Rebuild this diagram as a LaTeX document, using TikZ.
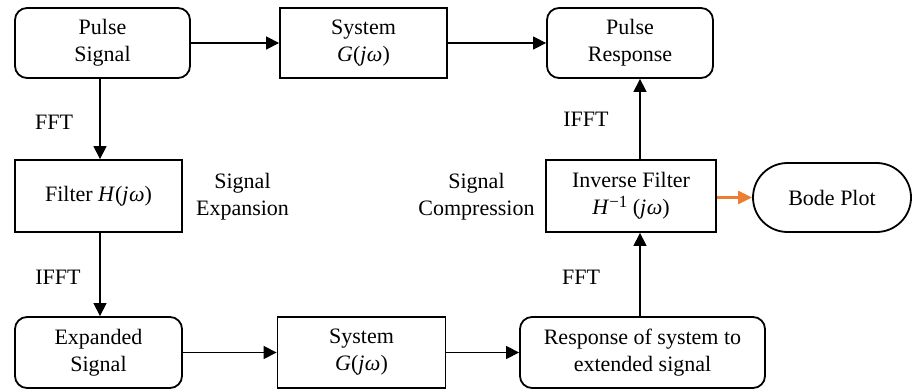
\documentclass[tikz,border=0pt]{standalone}
\usepackage{fontspec}
\setmainfont{Liberation Serif}
\usetikzlibrary{arrows.meta,shapes.misc}
\definecolor{bodeorange}{HTML}{ED7D31}
\newcommand{\jw}{\textit{j\kern0.5pt ω}}
\begin{document}
\begin{tikzpicture}[x=1pt,y=-1pt,
  every node/.style={font=\fontsize{22}{27}\selectfont, align=center, inner sep=0pt},
  blk/.style={draw, line width=1.8pt, minimum width=#1, minimum height=70pt},
  rblk/.style={blk=#1, rounded corners=12pt},
  arr/.style={line width=1.3pt, -{Triangle[length=13pt,width=13pt]}},
  oarr/.style={color=bodeorange, line width=2.2pt, -{Triangle[length=14pt,width=13pt]}}
]
\useasboundingbox (0,0) rectangle (915,390);
% top row
\node[rblk=175pt] (ps) at (102.5,43) {Pulse\\Signal};
\node[blk=167pt] (sys1) at (363.5,43) {System\\\textit{G}(\jw)};
\node[rblk=166pt] (pr) at (630,43) {Pulse\\Response};
% middle row
\node[blk=167pt, minimum height=72pt] (flt) at (98.5,196) {Filter \textit{H}(\jw)};
\node[blk=170pt, minimum height=72pt] (inv) at (631,196) {Inverse Filter\\\textit{H}\raisebox{7pt}{\fontsize{17}{17}\selectfont\char"2212 1} (\jw)};
\node[draw, line width=1.8pt, rounded rectangle, minimum width=158pt, minimum height=69pt] (bode) at (832,197.5) {Bode Plot};
\node (exp) at (242.5,197) {Signal\\Expansion};
\node (cmp) at (476.5,197) {Signal\\Compression};
% bottom row
\node[rblk=167pt, minimum height=71pt] (es) at (98.5,352.5) {Expanded\\Signal};
\node[blk=168pt, minimum height=71pt] (sys2) at (361.5,352.5) {System\\\textit{G}(\jw)};
\node[rblk=245pt, minimum height=71pt] (resp) at (642.5,352.5) {Response of system to\\extended signal};
% labels
\node (l1) at (54,122) {FFT};
\node (l2) at (58,277) {IFFT};
\node (l3) at (581,277) {FFT};
\node (l4) at (586,119) {IFFT};
% connectors
\coordinate (xl) at (100,0);
\coordinate (xr) at (640,0);
\draw[arr] (ps.east) -- (sys1.west);
\draw[arr] (sys1.east) -- (pr.west);
\draw[arr] (ps.south -| xl) -- (flt.north -| xl);
\draw[arr] (flt.south -| xl) -- (es.north -| xl);
\draw[arr] (es.east) -- (sys2.west);
\draw[arr] (sys2.east) -- (resp.west);
\draw[arr] (resp.north -| xr) -- (inv.south -| xr);
\draw[arr] (inv.north -| xr) -- (pr.south -| xr);
\draw[oarr] (inv.east |- bode.west) -- (bode.west);
\end{tikzpicture}
\end{document}
